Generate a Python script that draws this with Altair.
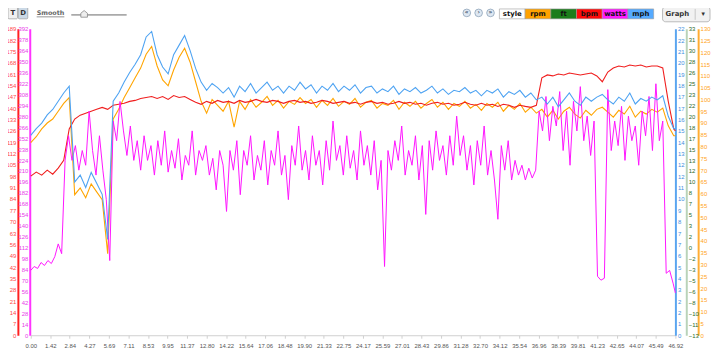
import altair as alt
import pandas as pd

# ---------------- data ----------------
X_MAX = 46.92
x_ticks = [0.00, 1.42, 2.84, 4.27, 5.69, 7.11, 8.53, 9.95, 11.37, 12.80, 14.22, 15.64,
           17.06, 18.48, 19.90, 21.33, 22.75, 24.17, 25.59, 27.01, 28.43, 29.86, 31.28,
           32.70, 34.12, 35.54, 36.96, 38.39, 39.81, 41.23, 42.65, 44.07, 45.49, 46.92]

# sample positions (distance) for mph / rpm / bpm and for watts
dist_a = [round(i * 0.4, 2) for i in range(118)] + [46.92]
dist_w = [round(j * 0.25, 2) for j in range(188)] + [46.92]

mph = [14.6, 15.1, 15.5, 16.1, 16.5, 17.1, 17.7, 18.2, 11.2, 11.7,
       10.8, 11.9, 11.1, 10.3, 7.0, 17.1, 17.7, 18.5, 19.2, 19.8,
       20.5, 21.8, 22.2, 20.5, 19.6, 19.1, 20.5, 21.2, 21.9, 20.8,
       19.5, 18.5, 17.9, 18.4, 18.1, 17.7, 18.1, 17.4, 18.2, 17.8,
       18.4, 17.7, 18.1, 18.5, 17.9, 18.2, 17.7, 18.2, 17.9, 18.5,
       18.0, 18.3, 17.7, 18.2, 17.9, 18.4, 17.8, 18.2, 17.9, 18.3,
       17.7, 18.1, 18.2, 17.7, 18.0, 17.8, 18.2, 17.6, 18.0, 17.8,
       18.1, 17.7, 17.9, 18.2, 17.7, 18.0, 17.6, 17.9, 17.8, 18.1,
       17.7, 17.9, 17.5, 17.9, 17.7, 18.0, 17.4, 17.8, 17.6, 17.9,
       17.4, 17.7, 17.2, 17.4, 16.9, 17.4, 16.7, 17.2, 17.7, 17.1,
       16.8, 17.4, 17.1, 17.4, 17.6, 17.2, 16.9, 17.4, 17.1, 17.7,
       16.9, 17.3, 17.1, 17.4, 17.2, 17.5, 16.0, 15.1, 15.1]

rpm = [81.7, 84.2, 87.5, 90.0, 91.7, 95.0, 98.3, 100.8, 59.6, 62.5,
       58.3, 64.2, 60.8, 57.5, 34.6, 91.7, 95.8, 100.8, 105.0, 109.2,
       113.3, 119.2, 122.5, 114.2, 108.3, 105.8, 112.5, 117.9, 121.7, 115.8,
       107.5, 99.2, 94.2, 100.0, 97.5, 95.0, 99.2, 88.3, 99.2, 95.8,
       100.0, 96.7, 98.8, 101.3, 97.5, 99.6, 96.3, 99.2, 97.9, 100.8,
       98.3, 100.0, 96.7, 99.6, 97.5, 100.4, 97.1, 99.2, 97.9, 100.4,
       96.7, 98.8, 99.6, 96.3, 98.3, 97.5, 99.6, 95.8, 98.8, 97.1,
       99.2, 96.3, 98.3, 100.0, 96.7, 98.8, 95.8, 98.3, 97.1, 99.2,
       96.3, 97.9, 95.4, 98.3, 96.7, 98.8, 95.0, 97.5, 95.8, 98.3,
       94.6, 96.7, 94.2, 95.8, 92.5, 95.4, 91.7, 95.0, 96.7, 93.8,
       92.1, 95.4, 93.3, 95.8, 96.7, 94.6, 92.5, 95.4, 93.8, 97.1,
       92.5, 95.0, 93.8, 95.8, 94.6, 96.3, 88.8, 84.6, 84.6]

bpm = [98.1, 100.6, 98.7, 101.8, 99.3, 103.0, 107.8, 127.2, 133.3, 135.7,
       136.9, 138.1, 139.3, 140.5, 139.3, 141.8, 142.4, 143.0, 144.2, 144.8,
       146.0, 146.6, 147.2, 146.0, 147.2, 145.4, 147.8, 146.6, 147.2, 145.4,
       143.6, 142.4, 144.2, 143.0, 144.8, 143.6, 144.2, 143.0, 144.8, 143.6,
       144.2, 145.4, 144.2, 143.6, 144.8, 144.2, 143.0, 144.2, 144.8, 143.6,
       144.2, 143.0, 143.6, 144.8, 144.2, 143.0, 143.6, 144.2, 143.0, 143.6,
       142.4, 143.6, 144.2, 143.0, 143.6, 142.4, 143.0, 144.2, 143.0, 143.6,
       142.4, 143.0, 141.8, 143.0, 143.6, 142.4, 143.0, 141.8, 142.4, 143.6,
       142.4, 141.8, 143.0, 141.8, 142.4, 141.1, 142.4, 141.8, 140.5, 141.8,
       141.1, 140.5, 141.8, 158.7, 160.5, 159.9, 161.1, 160.5, 161.7, 161.1,
       160.5, 161.1, 161.7, 159.9, 156.3, 162.3, 164.8, 166.0, 165.4, 166.6,
       166.0, 166.6, 165.4, 166.0, 166.0, 164.8, 144.2, 127.2, 126.0]

watts = [82.9, 87.9, 85.4, 93.0, 89.2, 95.5, 91.7, 100.5, 116.8, 104.3,
         223.6, 255.1, 223.6, 242.5, 211.1, 236.2, 217.4, 286.5, 236.2, 204.8,
         255.1, 211.1, 173.4, 95.5, 273.9, 248.8, 299.0, 261.3, 229.9, 267.6,
         223.6, 248.8, 211.1, 255.1, 223.6, 242.5, 204.8, 248.8, 217.4, 261.3,
         208.6, 236.2, 213.6, 251.3, 198.5, 229.9, 217.4, 261.3, 204.8, 236.2,
         223.6, 242.5, 204.8, 226.2, 185.9, 236.2, 217.4, 158.3, 236.2, 211.1,
         248.8, 179.7, 236.2, 217.4, 255.1, 198.5, 229.9, 211.1, 248.8, 192.2,
         236.2, 217.4, 261.3, 204.8, 229.9, 173.4, 242.5, 217.4, 267.6, 211.1,
         236.2, 198.5, 255.1, 217.4, 236.2, 192.2, 248.8, 211.1, 273.9, 223.6,
         242.5, 204.8, 255.1, 213.6, 236.2, 198.5, 261.3, 217.4, 242.5, 204.8,
         248.8, 185.9, 223.6, 87.9, 236.2, 211.1, 248.8, 223.6, 267.6, 204.8,
         236.2, 217.4, 255.1, 198.5, 242.5, 154.5, 248.8, 211.1, 261.3, 223.6,
         242.5, 204.8, 255.1, 217.4, 280.2, 229.9, 255.1, 211.1, 242.5, 192.2,
         248.8, 217.4, 267.6, 204.8, 236.2, 198.5, 148.3, 242.5, 211.1, 248.8,
         198.5, 223.6, 204.8, 217.4, 198.5, 213.6, 201.0, 211.1, 286.5, 261.3,
         305.3, 248.8, 292.7, 267.6, 311.6, 236.2, 286.5, 217.4, 299.0, 261.3,
         317.9, 248.8, 280.2, 229.9, 273.9, 75.4, 70.4, 72.9, 314.1, 236.2,
         273.9, 242.5, 292.7, 223.6, 280.2, 248.8, 267.6, 217.4, 286.5, 255.1,
         305.3, 236.2, 321.6, 248.8, 273.9, 79.2, 82.9, 66.6, 54.0]

ft_range = [-13, 33]

# axis tick values
bpm_ticks = list(range(0, 190, 7))
watts_ticks = list(range(0, 393, 14))
rpm_ticks = list(range(0, 131, 5))
mph_ticks = [22.4 * k / 27 for k in range(28)]
ft_ticks = [-13 + 46 * k / 28 for k in range(29)]

# header items
legend_names = ["style", "rpm", "ft", "bpm", "watts", "mph"]
legend_colors = ["#ffffff", "#ffa200", "#1b7d1b", "#ff0a0a", "#ff1aff", "#55aaff"]
td_names = ["T", "D"]
td_colors = ["#f0f0f0", "#cbd9e6"]
play_names = ["\u00ab", "\u203a", "\u00bb"]
smooth_label = ["Smooth"]
menu_label = ["Graph"]

# ---------------- styling ----------------
FONT = "Liberation Sans"
C_MPH, C_RPM, C_BPM, C_W = "#4ea3f2", "#ffa500", "#f01e1e", "#ff14ff"

df_a = pd.DataFrame({"dist": dist_a, "mph": mph, "rpm": rpm, "bpm": bpm})
df_w = pd.DataFrame({"dist": dist_w, "watts": watts})
df_ft = pd.DataFrame({"dist": [0, X_MAX], "ft": ft_range})


def xenc():
    return alt.X("dist:Q", scale=alt.Scale(domain=[0, X_MAX], nice=False, zero=False),
                 axis=alt.Axis(values=x_ticks, format=".2f", title=None, grid=False,
                               domainColor="#cfcfcf", domainWidth=1, tickColor="#cfcfcf",
                               tickSize=3, labelColor="#555555", labelFontSize=6,
                               labelFont=FONT, labelFlush=False, labelOverlap=False,
                               labelPadding=4))


def yaxis(line, text, orient, offset, values, fmt):
    return alt.Axis(orient=orient, offset=offset, values=values, format=fmt, title=None,
                    grid=False, ticks=False, domainColor=line, domainWidth=2,
                    labelColor=text, labelFontSize=6, labelFont=FONT, labelPadding=2,
                    labelOverlap=False, labelFlush=False)


rpm_line = alt.Chart(df_a).mark_line(color=C_RPM, strokeWidth=1.1).encode(
    x=xenc(),
    y=alt.Y("rpm:Q", scale=alt.Scale(domain=[0, 130], nice=False),
            axis=yaxis("#ffad33", "#ffa31a", "right", 23, rpm_ticks, "d")))

ft_dummy = alt.Chart(df_ft).mark_line(opacity=0).encode(
    x=xenc(),
    y=alt.Y("ft:Q", scale=alt.Scale(domain=ft_range, nice=False, zero=False),
            axis=yaxis("#b9d3b9", "#2a6b2a", "right", 11, ft_ticks, ".0f")))

bpm_line = alt.Chart(df_a).mark_line(color=C_BPM, strokeWidth=1.1).encode(
    x=xenc(),
    y=alt.Y("bpm:Q", scale=alt.Scale(domain=[0, 189], nice=False),
            axis=yaxis("#ff2020", "#ff4545", "left", 13, bpm_ticks, "d")))

watts_line = alt.Chart(df_w).mark_line(color=C_W, strokeWidth=1.0).encode(
    x=xenc(),
    y=alt.Y("watts:Q", scale=alt.Scale(domain=[0, 392], nice=False),
            axis=yaxis("#ff33ff", "#e83ee8", "left", 1, watts_ticks, "d")))

mph_line = alt.Chart(df_a).mark_line(color=C_MPH, strokeWidth=1.1).encode(
    x=xenc(),
    y=alt.Y("mph:Q", scale=alt.Scale(domain=[0, 22.4], nice=False),
            axis=yaxis("#5aa5f0", "#3d8fe0", "right", 0, mph_ticks, ".0f")))

main = alt.layer(rpm_line, ft_dummy, bpm_line, watts_line, mph_line).resolve_scale(y="independent")

# legend boxes
leg_df = pd.DataFrame({"name": legend_names})
leg_scale = alt.Scale(type="band", domain=legend_names, range=[474, 630], paddingInner=0, paddingOuter=0)
leg_rect = alt.Chart(leg_df).mark_rect(stroke="#9a9a9a", strokeWidth=0.6).encode(
    x=alt.X("name:N", scale=leg_scale, axis=None, sort=legend_names),
    y=alt.value(-20), y2=alt.value(-10),
    fill=alt.Fill("name:N", scale=alt.Scale(domain=legend_names, range=legend_colors), legend=None))
leg_text = alt.Chart(leg_df).mark_text(font="DejaVu Sans", fontWeight="bold", fontSize=7,
                                       color="#111111", baseline="middle").encode(
    x=alt.X("name:N", scale=leg_scale, axis=None, sort=legend_names),
    y=alt.value(-15), text="name:N")
legend = alt.layer(leg_rect, leg_text)

# T / D buttons
td_df = pd.DataFrame({"name": td_names})
td_scale = alt.Scale(type="band", domain=td_names, range=[-23, -3], paddingInner=0.08, paddingOuter=0)
td_rect = alt.Chart(td_df).mark_rect(stroke="#9a9a9a", strokeWidth=0.7, cornerRadius=1).encode(
    x=alt.X("name:N", scale=td_scale, axis=None, sort=td_names),
    y=alt.value(-22), y2=alt.value(-10),
    fill=alt.Fill("name:N", scale=alt.Scale(domain=td_names, range=td_colors), legend=None))
td_text = alt.Chart(td_df).mark_text(font="DejaVu Sans", fontWeight="bold", fontSize=7,
                                     color="#333333", baseline="middle").encode(
    x=alt.X("name:N", scale=td_scale, axis=None, sort=td_names),
    y=alt.value(-16), text="name:N")
td = alt.layer(td_rect, td_text)

# playback buttons
pb_df = pd.DataFrame({"name": play_names})
pb_scale = alt.Scale(type="band", domain=play_names, range=[435, 471], paddingInner=0, paddingOuter=0)
pb_circ = alt.Chart(pb_df).mark_point(shape="circle", filled=True, size=60, fill="#dfe8f2",
                                      stroke="#8da2b8", strokeWidth=0.8, opacity=1).encode(
    x=alt.X("name:N", scale=pb_scale, axis=None, sort=play_names), y=alt.value(-16))
pb_text = alt.Chart(pb_df).mark_text(font="DejaVu Sans", fontWeight="bold", fontSize=6,
                                     color="#3a4f66", baseline="middle").encode(
    x=alt.X("name:N", scale=pb_scale, axis=None, sort=play_names), y=alt.value(-16.5), text="name:N")
pb = alt.layer(pb_circ, pb_text)

# smooth control
one = pd.DataFrame({"label": smooth_label})
smooth_text = alt.Chart(one).mark_text(font="DejaVu Sans", fontWeight="bold", fontSize=6.5,
                                       color="#666666", align="left", baseline="middle").encode(
    x=alt.value(6), y=alt.value(-16), text="label:N")
smooth_ul = alt.Chart(one).mark_rule(color="#777777", strokeWidth=0.8).encode(
    x=alt.value(6), x2=alt.value(34), y=alt.value(-12))
slider = alt.Chart(one).mark_rule(color="#aaaaaa", strokeWidth=2).encode(
    x=alt.value(41), x2=alt.value(97), y=alt.value(-14))
knob = alt.Chart(one).mark_point(shape="M-1,1L-1,-0.2L0,-1L1,-0.2L1,1Z", filled=True, size=45,
                                 fill="#eeeeee", stroke="#888888", strokeWidth=0.8, opacity=1).encode(
    x=alt.value(54), y=alt.value(-15))

# Graph menu button
menu = pd.DataFrame({"label": menu_label})
menu_rect = alt.Chart(menu).mark_rect(fill="#f2f2f2", stroke="#aaaaaa", strokeWidth=0.8,
                                      cornerRadius=3).encode(
    x=alt.value(639), x2=alt.value(687), y=alt.value(-22), y2=alt.value(-7))
menu_sep = alt.Chart(menu).mark_rule(color="#bbbbbb", strokeWidth=0.8).encode(
    x=alt.value(672), y=alt.value(-20), y2=alt.value(-9))
menu_text = alt.Chart(menu).mark_text(font="DejaVu Sans", fontWeight="bold", fontSize=7,
                                      color="#333333", baseline="middle").encode(
    x=alt.value(654), y=alt.value(-14.5), text="label:N")
menu_arrow = alt.Chart(menu).mark_text(fontSize=6, color="#333333", baseline="middle",
                                       text="\u25bc").encode(x=alt.value(680), y=alt.value(-14.5))

chart = alt.layer(
    main, legend, td, pb, smooth_text, smooth_ul, slider, knob,
    menu_rect, menu_sep, menu_text, menu_arrow
).resolve_scale(x="independent", fill="independent").properties(
    width=652, height=310, autosize="none",
    padding={"left": 23, "top": 19, "right": 36, "bottom": 14}
).configure_view(stroke=None)

chart.save("out.html", embed_options={"renderer": "svg", "actions": False})
